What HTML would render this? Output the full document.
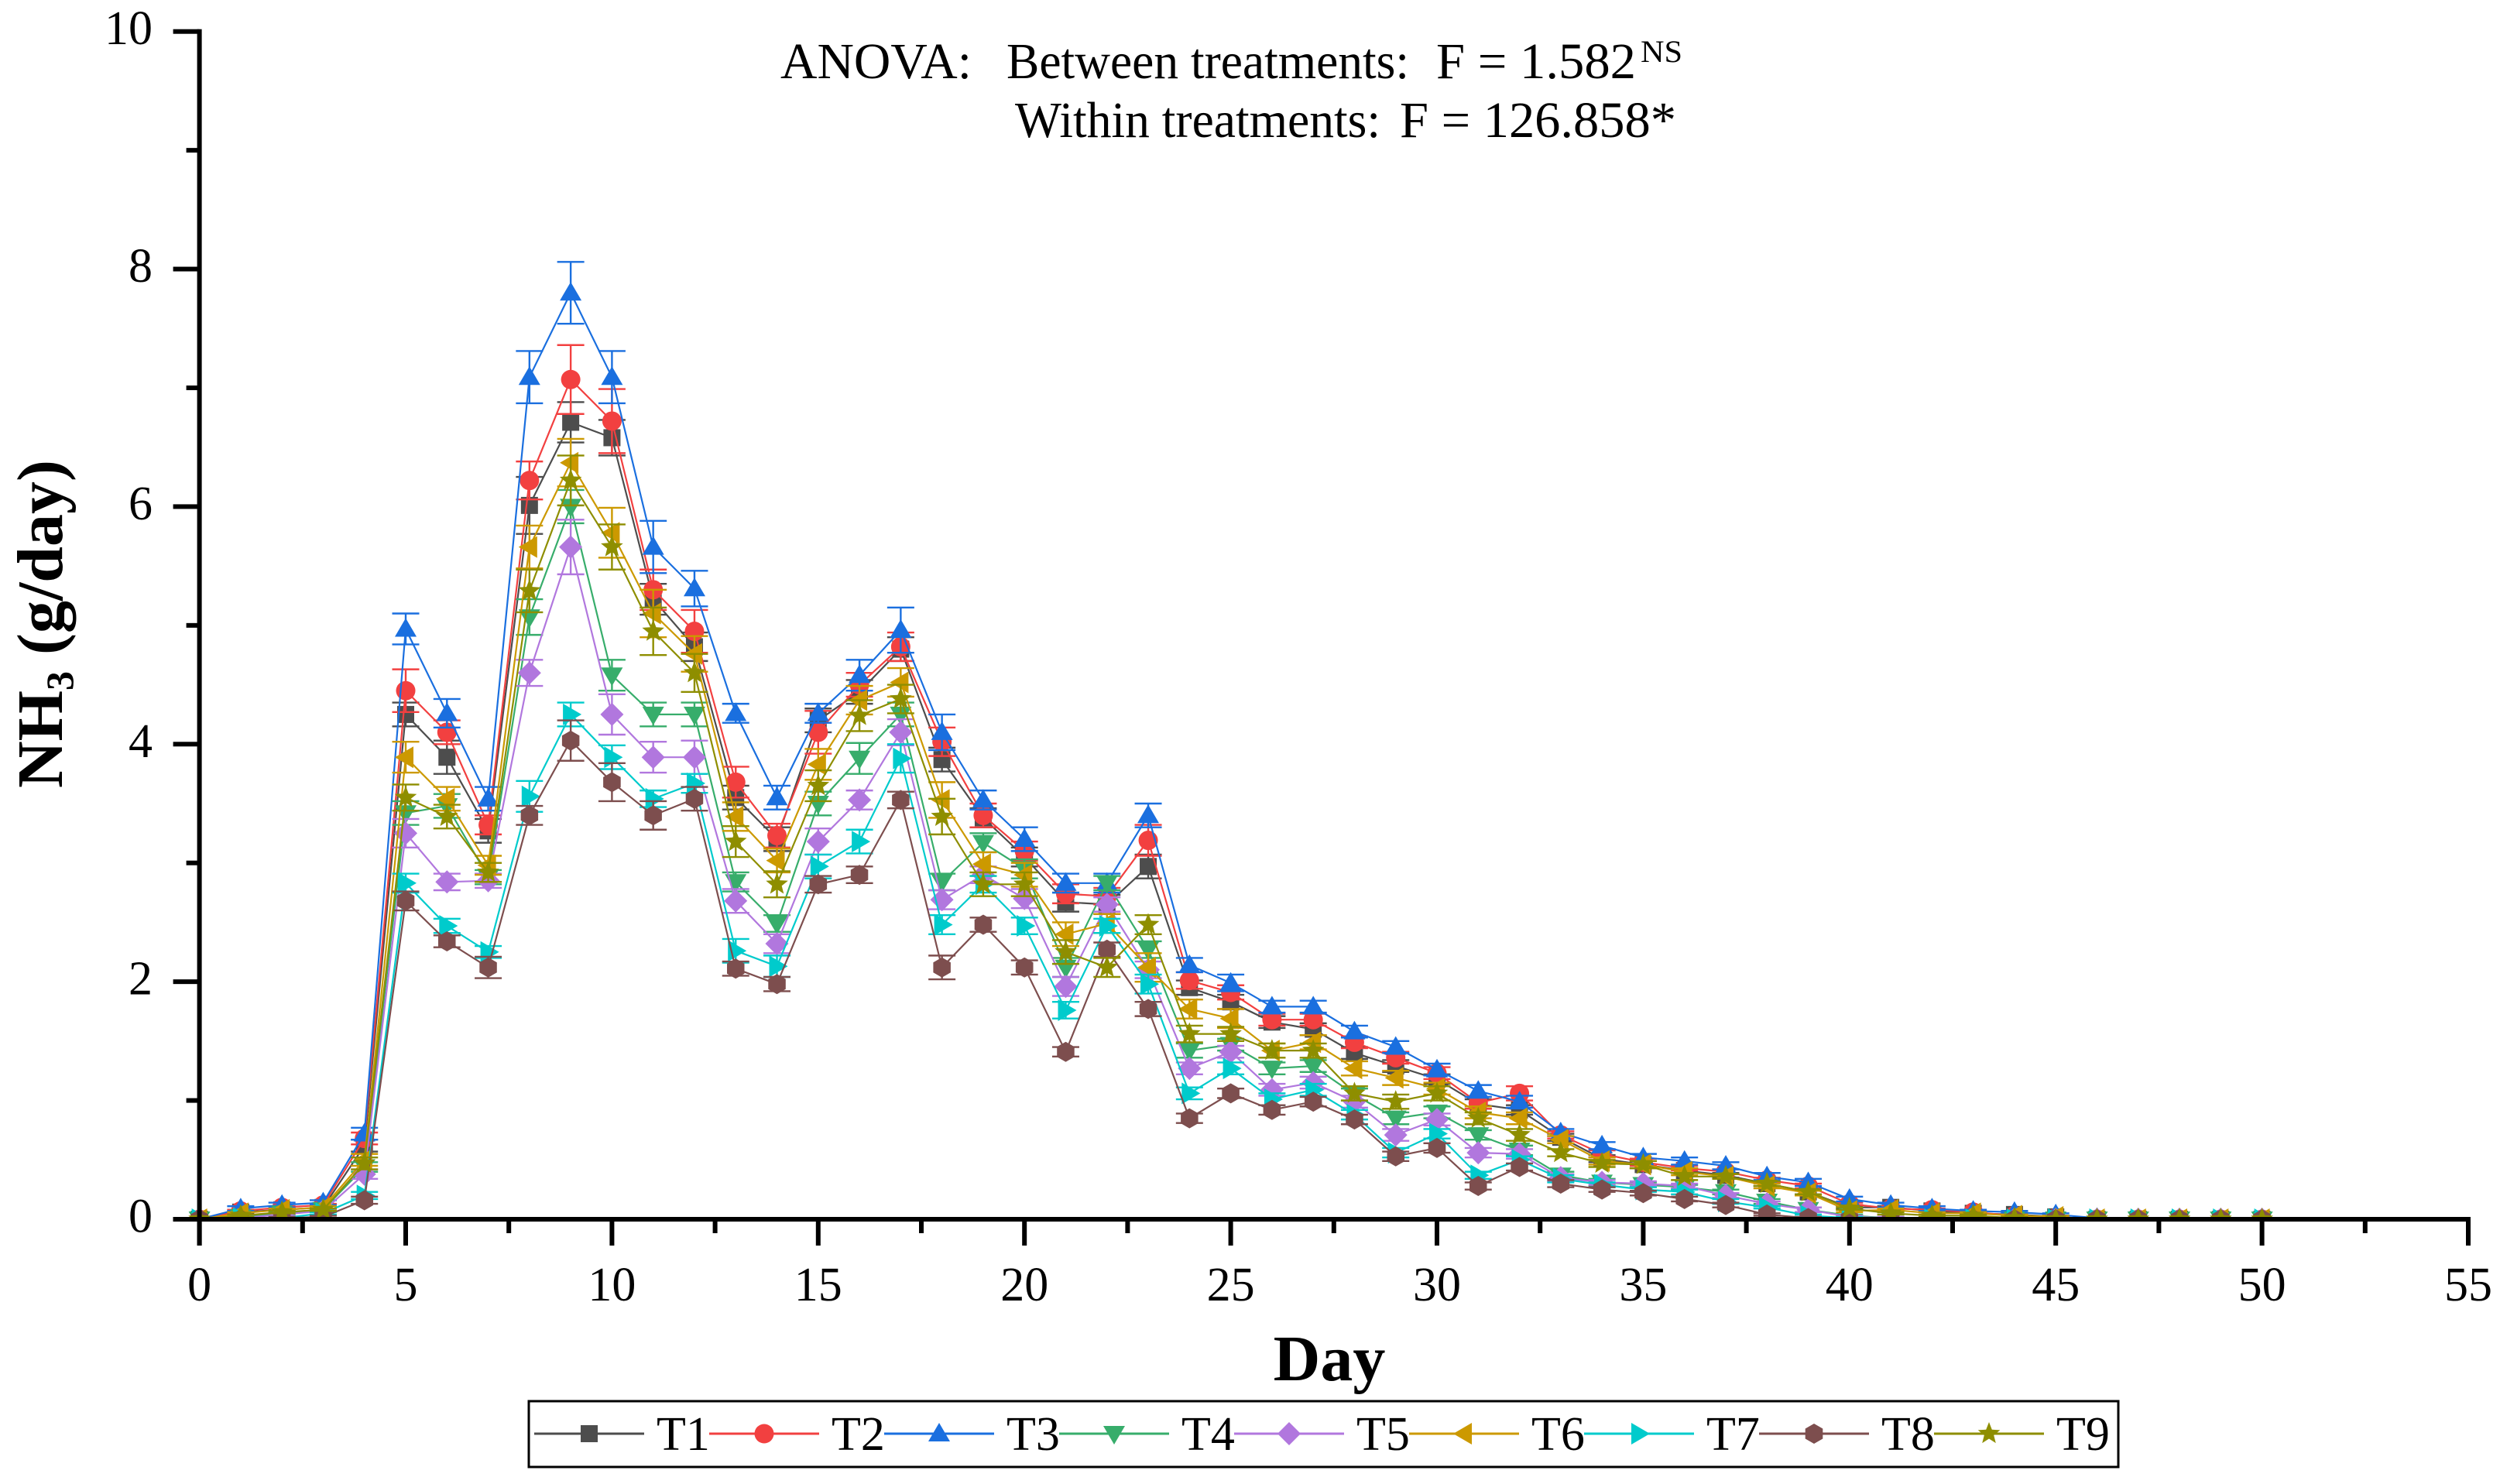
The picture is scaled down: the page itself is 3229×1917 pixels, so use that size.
<!DOCTYPE html>
<html lang="en">
<head>
<meta charset="utf-8">
<title>NH3 emission by day</title>
<style>
html,body{margin:0;padding:0;background:#fff;}
svg{display:block;}
text{font-family:"Liberation Serif",serif;fill:#000;}
</style>
</head>
<body>
<svg id="chart" xmlns="http://www.w3.org/2000/svg" width="3229" height="1917" viewBox="0 0 3229 1917">
  <rect x="0" y="0" width="3229" height="1917" fill="#fff"/>
  <defs>
    <clipPath id="plot-clip"><rect x="200" y="0" width="3029" height="1575"/></clipPath>
  </defs>
  <g id="series-layer" clip-path="url(#plot-clip)"></g>
  <g id="axes-layer"></g>
  <g font-size="66">
    <text x="1008" y="101" textLength="247" lengthAdjust="spacingAndGlyphs">ANOVA:</text>
    <text x="1300" y="101" textLength="520" lengthAdjust="spacingAndGlyphs">Between treatments:</text>
    <text x="1855" y="101" textLength="258" lengthAdjust="spacingAndGlyphs">F = 1.582</text>
    <text x="2119" y="80" font-size="40" textLength="54" lengthAdjust="spacingAndGlyphs">NS</text>
    <text x="1311" y="177" textLength="472" lengthAdjust="spacingAndGlyphs">Within treatments:</text>
    <text x="1808" y="177" textLength="357" lengthAdjust="spacingAndGlyphs">F = 126.858*</text>
  </g>
  <text x="1717" y="1783" font-size="84" font-weight="bold" text-anchor="middle">Day</text>
  <text transform="translate(80 806) rotate(-90)" font-size="84" font-weight="bold" text-anchor="middle">NH<tspan font-size="50" dy="14">3</tspan><tspan dy="-14"> (g/day)</tspan></text>
  <g id="legend-layer">
    <rect x="683" y="1810" width="2053" height="85" fill="#fff" stroke="#000" stroke-width="3"/>
  </g>
</svg>
<script>
var days = [0,1,2,3,4,5,6,7,8,9,10,11,12,13,14,15,16,17,18,19,20,21,22,23,24,25,26,27,28,29,30,31,32,33,34,35,36,37,38,39,40,41,42,43,44,45,46,47,48,49,50];
var seriesNames = ['T1','T2','T3','T4','T5','T6','T7','T8','T9'];
var xTickLabels = [0,5,10,15,20,25,30,35,40,45,50,55];
var yTickLabels = [0,2,4,6,8,10];
var xMinorTicks = [2.5,7.5,12.5,17.5,22.5,27.5,32.5,37.5,42.5,47.5,52.5];
var yMinorTicks = [1,3,5,7,9];

var t1 = [0,.06,.08,.1,.62,4.25,3.89,3.27,6.01,6.71,
 6.58,5.22,4.82,3.55,3.2,4.2,4.44,4.8,3.87,3.38,
 3.05,2.67,2.65,2.97,1.95,1.83,1.66,1.6,1.4,1.29,
 1.18,.97,.92,.69,.51,.46,.41,.37,.3,.23,
 .1,.1,.07,.05,.04,.02,0,0,0,0,0];
var t2 = [0,.07,.1,.12,.68,4.45,4.1,3.32,6.22,7.07,
 6.72,5.3,4.95,3.68,3.23,4.1,4.5,4.82,4.02,3.4,
 3.1,2.74,2.72,3.19,2.01,1.91,1.68,1.68,1.49,1.36,
 1.23,.98,1.06,.71,.55,.48,.43,.4,.33,.28,
 .13,.09,.08,.06,.03,.01,0,0,0,0,0];
var t3 = [0,.09,.12,.14,.72,4.97,4.26,3.54,7.09,7.8,
 7.09,5.66,5.31,4.26,3.55,4.26,4.58,4.96,4.1,3.53,
 3.2,2.83,2.83,3.4,2.14,1.99,1.79,1.79,1.58,1.45,
 1.26,1.08,.99,.73,.62,.52,.49,.45,.36,.31,
 .17,.12,.09,.07,.06,.04,.01,0,0,0,0];
var t4 = [0,.02,.05,.08,.44,3.42,3.48,2.88,5.07,6.0,
 4.58,4.25,4.25,2.84,2.49,3.5,3.88,4.25,2.84,3.17,
 2.95,2.12,2.83,2.27,1.42,1.47,1.27,1.29,1.05,.85,
 .9,.71,.58,.37,.31,.29,.27,.23,.15,.08,
 .03,.01,0,0,0,0,0,0,0,0,0];
var t5 = [0,.01,.04,.07,.38,3.25,2.84,2.85,4.6,5.66,
 4.25,3.89,3.89,2.68,2.32,3.18,3.53,4.1,2.69,2.9,
 2.7,1.96,2.65,2.1,1.27,1.41,1.09,1.15,.99,.71,
 .84,.56,.55,.35,.31,.3,.28,.2,.13,.08,
 .02,.01,0,0,0,0,0,0,0,0,0];
var t6 = [0,.05,.08,.1,.5,3.89,3.54,2.98,5.66,6.37,
 5.78,5.1,4.76,3.39,3.02,3.83,4.37,4.52,3.53,2.99,
 2.9,2.4,2.49,2.12,1.77,1.69,1.42,1.49,1.27,1.19,
 1.1,.9,.85,.67,.49,.46,.4,.36,.28,.22,
 .07,.08,.05,.05,.03,.02,0,0,0,0,0];
var t7 = [0,.01,.01,.05,.2,2.83,2.47,2.25,3.56,4.25,
 3.89,3.54,3.67,2.26,2.13,2.97,3.18,3.88,2.48,2.82,
 2.47,1.76,2.47,1.98,1.06,1.27,1.01,1.09,.88,.56,
 .72,.37,.5,.34,.29,.25,.23,.15,.1,.03,
 .01,0,0,0,0,0,0,0,0,0,0];
var t8 = [0,0,.01,.02,.16,2.68,2.34,2.12,3.4,4.03,
 3.68,3.4,3.54,2.11,1.98,2.82,2.9,3.53,2.12,2.48,
 2.12,1.41,2.27,1.77,.85,1.06,.92,.99,.84,.53,
 .6,.28,.44,.3,.25,.22,.17,.12,.04,.01,
 0,0,0,0,0,0,0,0,0,0,0];
var t9 = [0,.03,.06,.08,.47,3.55,3.39,2.92,5.29,6.22,
 5.66,4.95,4.6,3.18,2.82,3.65,4.24,4.38,3.39,2.82,
 2.82,2.25,2.12,2.48,1.56,1.56,1.42,1.42,1.06,.99,
 1.06,.85,.71,.56,.47,.46,.36,.36,.3,.23,
 .09,.05,.03,.03,.01,0,0,0,0,0,0];

var e1 = [0,.01,.01,.01,.05,.1,.14,.1,.24,.17,
 .15,.13,.12,.1,.1,.1,.1,.1,.1,.08,
 .08,.08,.08,.1,.06,.06,.05,.05,.05,.05,
 .04,.04,.04,.03,.03,.03,.02,.02,.02,.02,
 .01,.01,.01,.01,.01,.01,0,0,0,0,0];
var e2 = [0,.01,.01,.01,.05,.18,.1,.08,.16,.29,
 .27,.17,.18,.13,.1,.18,.1,.12,.12,.1,
 .08,.08,.07,.13,.07,.06,.05,.05,.05,.05,
 .05,.05,.06,.03,.03,.03,.02,.02,.02,.02,
 .01,.01,.01,.01,.01,.01,0,0,0,0,0];
var e3 = [0,.02,.02,.02,.05,.13,.12,.1,.22,.26,
 .22,.22,.15,.08,.1,.08,.13,.19,.15,.08,
 .1,.08,.08,.1,.06,.07,.05,.05,.05,.05,
 .05,.05,.05,.03,.03,.03,.03,.03,.03,.03,
 .02,.02,.02,.01,.01,.01,0,0,0,0,0];
var e4 = [0,.01,.01,.01,.04,.1,.1,.06,.15,.14,
 .13,.1,.1,.08,.07,.1,.13,.1,.07,.08,
 .08,.08,.06,.07,.06,.05,.05,.05,.05,.05,
 .05,.04,.04,.03,.03,.02,.02,.02,.02,.02,
 .01,.01,0,0,0,0,0,0,0,0,0];
var e5 = [0,.01,.01,.01,.04,.12,.07,.06,.11,.23,
 .17,.13,.14,.1,.08,.11,.08,.11,.08,.07,
 .08,.08,.06,.07,.05,.05,.05,.05,.05,.05,
 .05,.04,.04,.03,.02,.02,.02,.02,.02,.02,
 .01,.01,0,0,0,0,0,0,0,0,0];
var e6 = [0,.01,.01,.01,.05,.13,.1,.08,.18,.2,
 .21,.2,.15,.12,.1,.13,.12,.12,.15,.1,
 .1,.1,.08,.12,.08,.08,.06,.06,.06,.06,
 .05,.05,.05,.03,.03,.03,.03,.02,.02,.02,
 .01,.01,.01,.01,.01,.01,0,0,0,0,0];
var e7 = [0,.01,.01,.01,.03,.08,.06,.05,.13,.1,
 .1,.07,.08,.1,.09,.1,.1,.12,.08,.07,
 .07,.07,.06,.08,.05,.05,.05,.05,.04,.04,
 .04,.03,.03,.03,.02,.02,.02,.02,.01,.01,
 .01,0,0,0,0,0,0,0,0,0,0];
var e8 = [0,0,.01,.01,.03,.08,.05,.09,.08,.17,
 .16,.12,.1,.06,.06,.07,.07,.07,.1,.06,
 .06,.04,.06,.06,.04,.04,.04,.04,.04,.04,
 .04,.03,.03,.03,.02,.02,.02,.02,.01,.01,
 0,0,0,0,0,0,0,0,0,0,0];
var e9 = [0,.01,.01,.01,.05,.11,.1,.08,.18,.21,
 .19,.2,.16,.13,.11,.13,.13,.12,.15,.1,
 .1,.1,.08,.08,.07,.06,.06,.06,.06,.06,
 .06,.05,.05,.03,.03,.03,.03,.02,.02,.02,
 .01,.01,.01,.01,.01,0,0,0,0,0,0];

var seriesValues = [t1,t2,t3,t4,t5,t6,t7,t8,t9];
var seriesErrors = [e1,e2,e3,e4,e5,e6,e7,e8,e9];
var seriesColors = ['#4d4d4d','#f24040','#1a6fdf','#37ad6b','#b177de','#cc9900','#00cbcc','#7d4e4e','#8e8e00'];
var seriesMarkers = ['square','circle','up','down','diamond','left','right','hexagon','star'];

var SVGNS = 'http://www.w3.org/2000/svg';
var X0 = 257.6, XPERDAY = 53.28;
var Y0 = 1575, YPERUNIT = 153.43;
function xScale(d){ return X0 + XPERDAY * d; }
function yScale(v){ return Y0 - YPERUNIT * v; }

function make(tag, attrs, parent){
  var n = document.createElementNS(SVGNS, tag);
  for (var k in attrs) n.setAttribute(k, attrs[k]);
  parent.appendChild(n);
  return n;
}
function polygonPoints(kind, cx, cy){
  var pts = [], i, r, a;
  if (kind === 'up') pts = [[0,-14],[14,10],[-14,10]];
  else if (kind === 'down') pts = [[-14,-10],[14,-10],[0,14]];
  else if (kind === 'left') pts = [[-14,0],[10,-14],[10,14]];
  else if (kind === 'right') pts = [[14,0],[-10,-14],[-10,14]];
  else if (kind === 'diamond') pts = [[0,-15],[15,0],[0,15],[-15,0]];
  else if (kind === 'hexagon') {
    for (i = 0; i < 6; i++) { a = Math.PI * (i / 3 - 0.5); pts.push([13 * Math.cos(a), 13 * Math.sin(a)]); }
  } else if (kind === 'star') {
    for (i = 0; i < 10; i++) { r = i % 2 ? 6.5 : 15; a = Math.PI * (i / 5 - 0.5); pts.push([r * Math.cos(a), r * Math.sin(a)]); }
  }
  return pts.map(function(p){ return (cx + p[0]).toFixed(1) + ',' + (cy + p[1]).toFixed(1); }).join(' ');
}
function drawMarker(kind, cx, cy, color, parent){
  if (kind === 'square') return make('rect', {x: cx - 11, y: cy - 11, width: 22, height: 22, fill: color}, parent);
  if (kind === 'circle') return make('circle', {cx: cx, cy: cy, r: 12.5, fill: color}, parent);
  return make('polygon', {points: polygonPoints(kind, cx, cy), fill: color}, parent);
}

var axes = document.getElementById('axes-layer');
var seriesLayer = document.getElementById('series-layer');
var legendLayer = document.getElementById('legend-layer');

seriesValues.forEach(function(values, s){
  var color = seriesColors[s];
  var errs = seriesErrors[s];
  var group = make('g', {}, seriesLayer);
  
  
  var linePts = days.map(function(d, i){ return xScale(d).toFixed(1) + ',' + yScale(values[i]).toFixed(1); }).join(' ');
  var line = make('polyline', {points: linePts, fill: 'none', stroke: color, 'stroke-width': 2.2}, group);
  
  
  days.forEach(function(d, i){
    var cx = xScale(d);
    var top = yScale(values[i] + errs[i]);
    var bot = yScale(values[i] - errs[i]);
    var bar = make('path', {d: 'M' + cx + ' ' + top + 'V' + bot + 'M' + (cx - 17.5) + ' ' + top + 'H' + (cx + 17.5) + 'M' + (cx - 17.5) + ' ' + bot + 'H' + (cx + 17.5), fill: 'none', stroke: color, 'stroke-width': 2.4}, group);
    
    
  });
  days.forEach(function(d, i){
    var m = drawMarker(seriesMarkers[s], xScale(d), yScale(values[i]), color, group);
    
    
  });
});

var yAxisLine = make('rect', {x: X0 - 3, y: yScale(10) - 3, width: 6, height: 1575 + 34 - yScale(10) + 3, fill: '#000'}, axes);


var xAxisLine = make('rect', {x: X0 - 34, y: Y0 - 3, width: xScale(55) - X0 + 34 + 3, height: 6, fill: '#000'}, axes);



xTickLabels.forEach(function(d){
  var x = xScale(d);
  var t = make('rect', {x: x - 3, y: Y0, width: 6, height: 34, fill: '#000'}, axes);
  
  
  var l = make('text', {x: x, y: 1680, 'font-size': 62, 'text-anchor': 'middle'}, axes);
  l.textContent = String(d);
  
  
});
xMinorTicks.forEach(function(d){
  var t = make('rect', {x: xScale(d) - 3, y: Y0, width: 6, height: 18, fill: '#000'}, axes);
  
  
});
yTickLabels.forEach(function(v){
  var y = yScale(v);
  var t = make('rect', {x: X0 - 34, y: y - 3, width: 34, height: 6, fill: '#000'}, axes);
  
  
  var l = make('text', {x: 197, y: y + 16.5, 'font-size': 62, 'text-anchor': 'end'}, axes);
  l.textContent = String(v);
  
  
});
yMinorTicks.forEach(function(v){
  var t = make('rect', {x: X0 - 17, y: yScale(v) - 3, width: 17, height: 6, fill: '#000'}, axes);
  
  
});

seriesNames.forEach(function(name, s){
  var left = 690 + 226 * s;
  var g = make('g', {}, legendLayer);
  
  
  var ln = make('rect', {x: left, y: 1850.5, width: 142, height: 3, fill: seriesColors[s]}, g);
  
  
  var mk = drawMarker(seriesMarkers[s], left + 71, 1852, seriesColors[s], g);
  
  
  var tx = make('text', {x: left + 158, y: 1873, 'font-size': 62}, g);
  tx.textContent = name;
  
  
});
</script>
</body>
</html>
